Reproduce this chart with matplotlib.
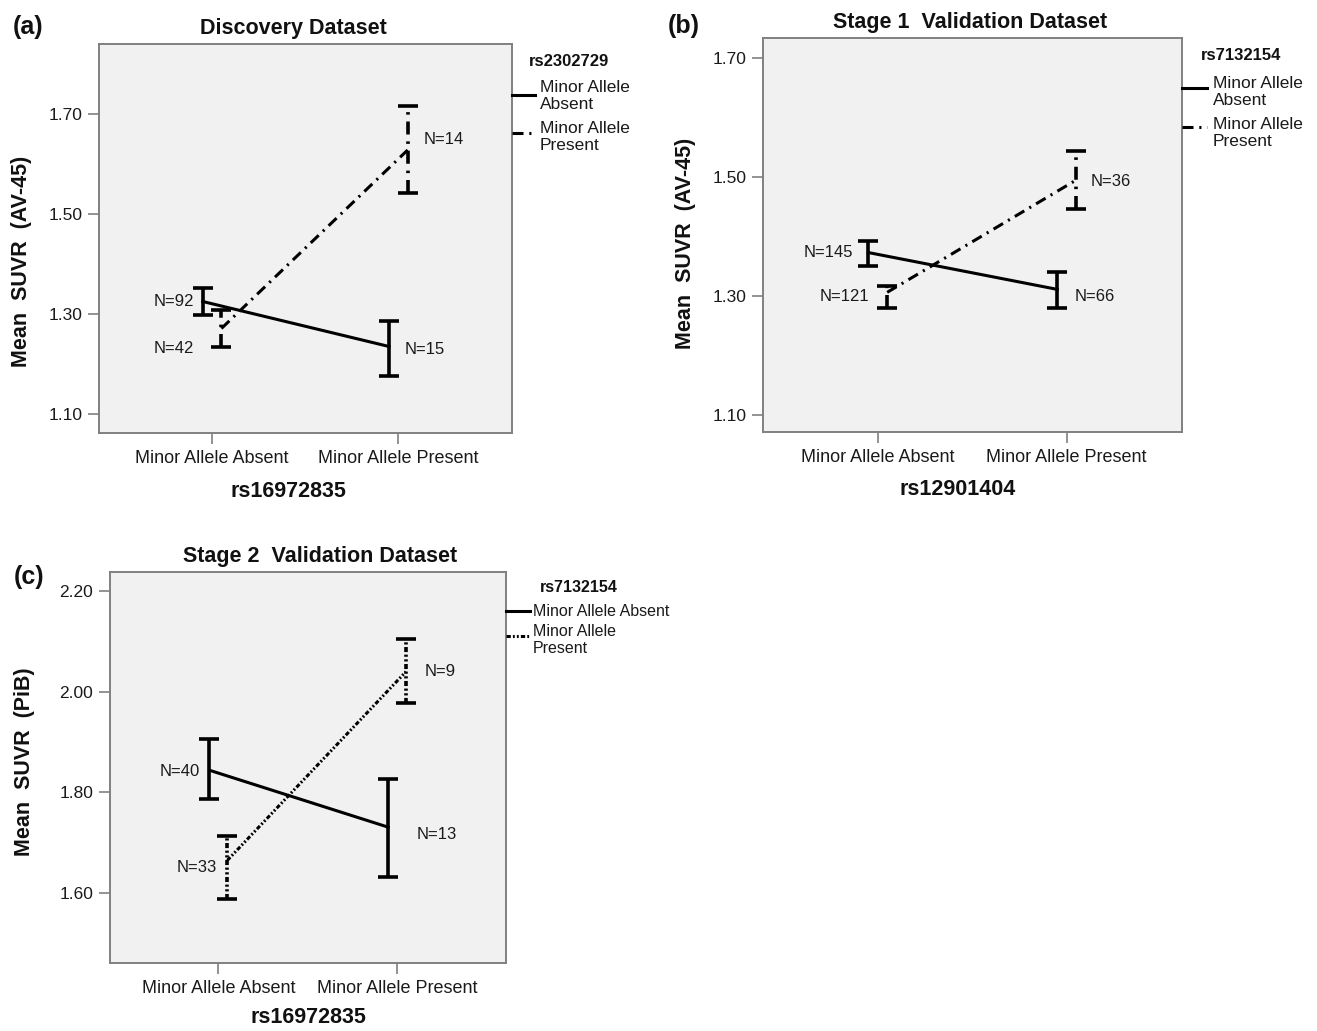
import matplotlib
matplotlib.use("Agg")
import matplotlib.pyplot as plt
from matplotlib.lines import Line2D

plt.rcParams['font.family'] = ['Liberation Sans', 'DejaVu Sans']

# ---------------- data ----------------
categories = ["Minor Allele Absent", "Minor Allele Present"]
legend_labels = ["Minor Allele\nAbsent", "Minor Allele\nPresent"]
legend_labels_c = ["Minor Allele Absent", "Minor Allele\nPresent"]

# (a) Discovery dataset, grouped by rs2302729
a_absent_mean = [1.325, 1.235]
a_absent_lo = [1.299, 1.176]
a_absent_hi = [1.352, 1.287]
a_absent_n = [92, 15]
a_present_mean = [1.271, 1.628]
a_present_lo = [1.235, 1.543]
a_present_hi = [1.308, 1.716]
a_present_n = [42, 14]
a_yticks = [1.10, 1.30, 1.50, 1.70]

# (b) Stage 1 validation, grouped by rs7132154
b_absent_mean = [1.373, 1.311]
b_absent_lo = [1.351, 1.279]
b_absent_hi = [1.393, 1.341]
b_absent_n = [145, 66]
b_present_mean = [1.306, 1.495]
b_present_lo = [1.280, 1.446]
b_present_hi = [1.317, 1.544]
b_present_n = [121, 36]
b_yticks = [1.10, 1.30, 1.50, 1.70]

# (c) Stage 2 validation, grouped by rs7132154
c_absent_mean = [1.844, 1.731]
c_absent_lo = [1.786, 1.632]
c_absent_hi = [1.906, 1.827]
c_absent_n = [40, 13]
c_present_mean = [1.665, 2.040]
c_present_lo = [1.589, 1.977]
c_present_hi = [1.713, 2.105]
c_present_n = [33, 9]
c_yticks = [1.60, 1.80, 2.00, 2.20]

# ---------------- layout / style ----------------
W, H = 1317, 1031
fig = plt.figure(figsize=(W / 100, H / 100), dpi=100)

def fx(px):
    return px / W

def fy(py):
    return 1 - py / H

def axes_rect(l, t, r, b):
    return [fx(l), fy(b), (r - l) / W, (b - t) / H]

BG = '#f1f1f1'
SPINE = '#808080'
LW = 2.2
DASHDOT = (0, (3.6, 1.9, 0.7, 1.9))
DOTTED = (0, (1.4, 0.7, 0.6, 0.7, 0.6, 0.7))
DODGE = 0.05


def draw_panel(rect, ylim, yticks, ylabel, xlabel, title, title_x,
               ylab_xy, xlab_xy, series, present_ls, labels_cfg):
    ax = fig.add_axes(rect)
    ax.set_facecolor(BG)
    for s in ax.spines.values():
        s.set_color(SPINE)
        s.set_linewidth(1.4)
    x0 = list(range(len(categories)))
    for k, (mean, lo, hi, ns) in enumerate(series):
        off = -DODGE if k == 0 else DODGE
        ls = '-' if k == 0 else present_ls
        xs = [x + off for x in x0]
        ax.plot(xs, mean, color='black', lw=LW, linestyle=ls, zorder=3)
        yerr = [[m - l for m, l in zip(mean, lo)], [h - m for m, h in zip(mean, hi)]]
        eb = ax.errorbar(xs, mean, yerr=yerr, fmt='none', ecolor='black',
                         elinewidth=2.6, capsize=7, capthick=2.6, zorder=4)
        if k == 1:
            for coll in eb[2]:
                coll.set_linestyle(ls)
        for i, n in enumerate(ns):
            dx, dy, ha = labels_cfg[k][i]
            ax.annotate(f"N={n}", xy=(xs[i], mean[i]), xytext=(dx, dy),
                        textcoords='offset pixels', ha=ha, va='center',
                        fontsize=12, color='#1a1a1a')
    ax.set_xlim(-0.607, 1.61)
    ax.set_ylim(*ylim)
    ax.set_xticks(x0)
    ax.set_xticklabels(categories, fontsize=13, color='#1a1a1a')
    ax.set_yticks(yticks)
    ax.set_yticklabels([f"{v:.2f}" for v in yticks], fontsize=12.5, color='#1a1a1a')
    ax.tick_params(axis='both', direction='out', length=8, width=1.2,
                   color=SPINE)
    ax.tick_params(axis='y', pad=4)
    ax.tick_params(axis='x', pad=4.5)
    ax.set_ylabel(ylabel, fontsize=15.5, fontweight='bold', color='#111111')
    ax.yaxis.set_label_coords(*ylab_xy)
    ax.set_xlabel(xlabel, fontsize=15.5, fontweight='bold', color='#111111')
    ax.xaxis.set_label_coords(*xlab_xy)
    ax.set_title(title, fontsize=15.5, fontweight='bold', x=title_x, pad=7,
                 color='#111111')
    return ax


def draw_legend(title, title_xy, handle_x, handle_ys, text_x, text_ys, labels,
                styles, fs_title, fs_text):
    fig.text(fx(title_xy[0]), fy(title_xy[1]), title, ha='center', va='center',
             fontsize=fs_title, fontweight='bold', color='#111111')
    for hy, ty, lab, ls in zip(handle_ys, text_ys, labels, styles):
        fig.add_artist(Line2D([fx(handle_x[0]), fx(handle_x[1])], [fy(hy), fy(hy)],
                              transform=fig.transFigure, color='black', lw=LW,
                              linestyle=ls))
        fig.text(fx(text_x), fy(ty), lab, ha='left', va='center',
                 fontsize=fs_text, linespacing=1.15, color='#1a1a1a')


# ---- panel (a)
draw_panel(axes_rect(99, 44, 512, 433), (1.062, 1.84), a_yticks,
           "Mean  SUVR  (AV-45)", "rs16972835", "Discovery Dataset", 0.47,
           (-0.162, 0.44), (0.458, -0.123),
           [(a_absent_mean, a_absent_lo, a_absent_hi, a_absent_n),
            (a_present_mean, a_present_lo, a_present_hi, a_present_n)],
           DASHDOT,
           [[(-9, 0, 'right'), (16, -3, 'left')],
            [(-27, -20, 'right'), (16, 10, 'left')]])
draw_legend("rs2302729", (569, 62), (512, 535), [95, 133], 540, [96, 137],
            legend_labels, ['-', DASHDOT], 12, 12.5)
fig.text(fx(28), fy(27), "(a)", ha='center', va='center', fontsize=18,
         fontweight='bold', color='#111111')

# ---- panel (b)
draw_panel(axes_rect(763, 38, 1182, 432), (1.071, 1.734), b_yticks,
           "Mean  SUVR  (AV-45)", "rs12901404", "Stage 1  Validation Dataset", 0.494,
           (-0.16, 0.48), (0.465, -0.119),
           [(b_absent_mean, b_absent_lo, b_absent_hi, b_absent_n),
            (b_present_mean, b_present_lo, b_present_hi, b_present_n)],
           DASHDOT,
           [[(-15, 0, 'right'), (17, -7, 'left')],
            [(-18, -4, 'right'), (14, -1, 'left')]])
draw_legend("rs7132154", (1241, 55), (1182, 1207), [88, 127], 1213, [92, 133],
            legend_labels, ['-', DASHDOT], 12, 12.5)
fig.text(fx(684), fy(26), "(b)", ha='center', va='center', fontsize=18,
         fontweight='bold', color='#111111')

# ---- panel (c)
draw_panel(axes_rect(110, 572, 506, 963), (1.461, 2.238), c_yticks,
           "Mean  SUVR  (PiB)", "rs16972835", "Stage 2  Validation Dataset", 0.53,
           (-0.19, 0.514), (0.502, -0.113),
           [(c_absent_mean, c_absent_lo, c_absent_hi, c_absent_n),
            (c_present_mean, c_present_lo, c_present_hi, c_present_n)],
           DOTTED,
           [[(-10, -1, 'right'), (29, -7, 'left')],
            [(-10, -7, 'right'), (19, 0, 'left')]])
draw_legend("rs7132154", (579, 588), (506, 530), [611, 636], 533, [612, 640],
            legend_labels_c, ['-', DOTTED], 11.5, 11.5)
fig.text(fx(29), fy(577), "(c)", ha='center', va='center', fontsize=18,
         fontweight='bold', color='#111111')

fig.savefig("out.png", dpi=100)
